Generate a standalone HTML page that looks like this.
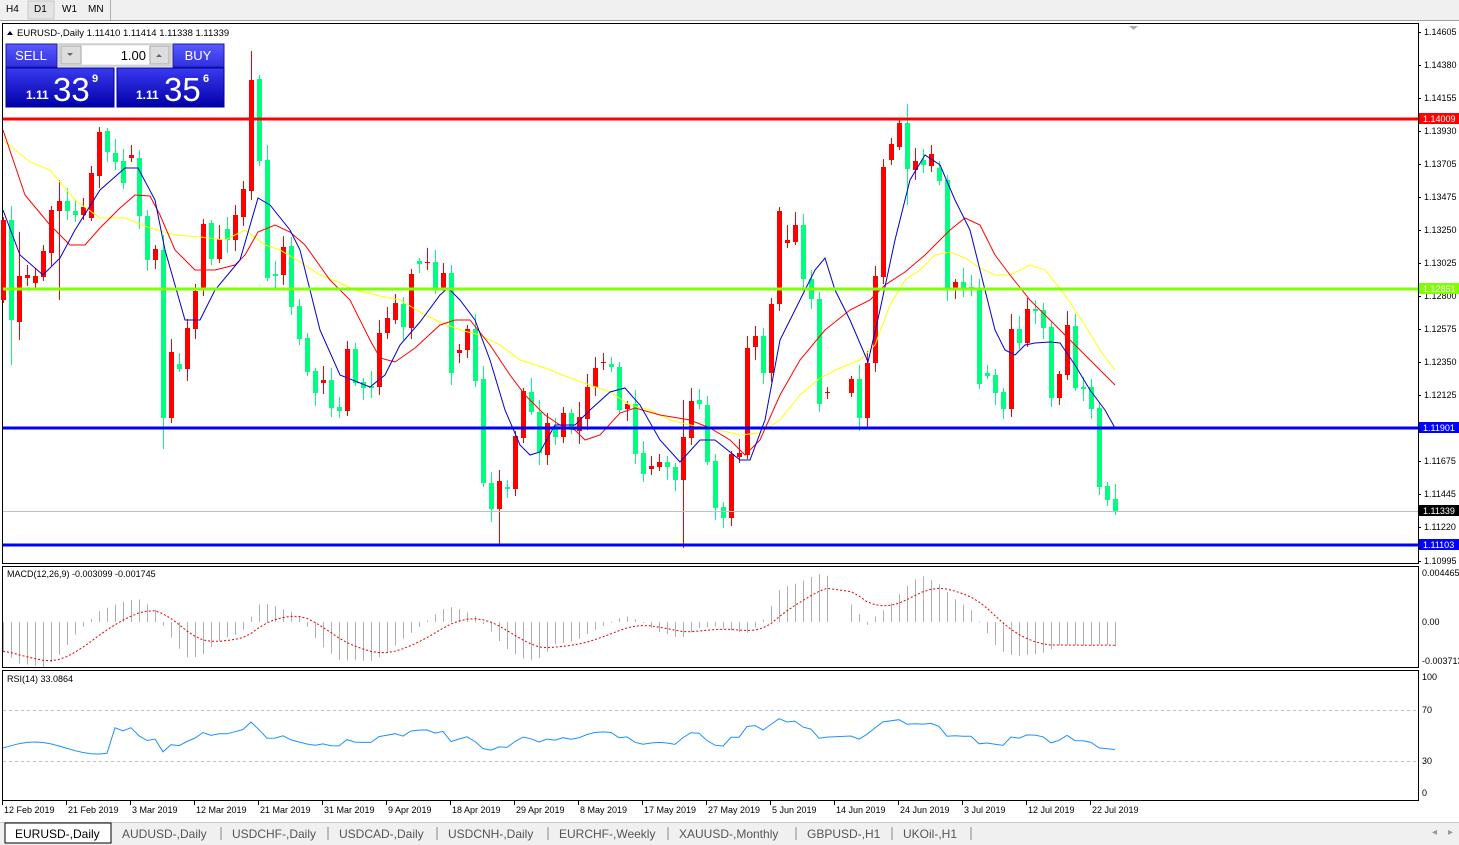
<!DOCTYPE html>
<html><head><meta charset="utf-8">
<style>
body{margin:0;width:1459px;height:845px;overflow:hidden;background:#fff;font-family:"Liberation Sans",sans-serif;}
svg{position:absolute;left:0;top:0}
</style></head>
<body>
<svg id="s" width="1459" height="845" xmlns="http://www.w3.org/2000/svg" font-family="Liberation Sans, sans-serif">
<defs>
<linearGradient id="gb" x1="0" y1="0" x2="0" y2="1"><stop offset="0" stop-color="#3a3af0"/><stop offset="1" stop-color="#0000a8"/></linearGradient>
<linearGradient id="gs" x1="0" y1="0" x2="0" y2="1"><stop offset="0" stop-color="#5a5aff"/><stop offset="1" stop-color="#2f2fe0"/></linearGradient>
</defs>
<rect x="0" y="0" width="1459" height="20" fill="#f0f0f0"/>
<line x1="0" y1="20.5" x2="1459" y2="20.5" stroke="#a0a0a0"/>
<rect x="28" y="1" width="26" height="18" fill="#e4e4e4" stroke="#c8c8c8"/>
<line x1="110.5" y1="0" x2="110.5" y2="20" stroke="#b0b0b0"/>
<g font-size="10" fill="#000"><text x="6" y="12">H4</text><text x="34" y="12">D1</text><text x="62" y="12">W1</text><text x="88" y="12">MN</text></g>
<rect x="2.5" y="23.5" width="1416" height="540" fill="#fff" stroke="#000"/>
<rect x="2.5" y="566.5" width="1416" height="101" fill="#fff" stroke="#000"/>
<rect x="2.5" y="670.5" width="1416" height="130" fill="#fff" stroke="#000"/>
<polygon points="1129,26 1138,26 1133.5,30" fill="#aaa"/>
<g id="main"></g>
<line x1="3" y1="511.5" x2="1418" y2="511.5" stroke="#c0c0c0"/>
<rect x="3" y="117.5" width="1415" height="3" fill="#ff0000"/>
<rect x="3" y="287.5" width="1415" height="3" fill="#7fff00"/>
<rect x="3" y="426.5" width="1415" height="3" fill="#0000ff"/>
<rect x="3" y="543.5" width="1415" height="3" fill="#0000ff"/>
<g id="ax" font-size="9" fill="#000"></g>
<polygon points="7,35 13,35 10,31" fill="#000"/>
<text x="17" y="36" font-size="9.5">EURUSD-,Daily  1.11410 1.11414 1.11338 1.11339</text>
<rect x="6" y="44" width="51" height="23" fill="url(#gs)" stroke="#1a1aa0"/>
<text x="31" y="60" font-size="13" fill="#fff" text-anchor="middle">SELL</text>
<rect x="173" y="44" width="51" height="23" fill="url(#gs)" stroke="#1a1aa0"/>
<text x="198" y="60" font-size="13" fill="#fff" text-anchor="middle">BUY</text>
<rect x="59" y="44" width="112" height="22" fill="#f0f0f0" stroke="#b0b0b0"/>
<rect x="61" y="46" width="20" height="18" fill="#ddd" stroke="#aaa"/>
<rect x="82" y="46" width="67" height="18" fill="#fff"/>
<rect x="150" y="46" width="19" height="18" fill="#ddd" stroke="#aaa"/>
<polygon points="67,53 73,53 70,56" fill="#667"/><polygon points="156,57 162,57 159,54" fill="#667"/>
<text x="146" y="60" font-size="13" text-anchor="end">1.00</text>
<rect x="6" y="68" width="108" height="39" fill="url(#gb)" stroke="#0000a0"/>
<rect x="117" y="68" width="107" height="39" fill="url(#gb)" stroke="#0000a0"/>
<g fill="#fff" font-weight="bold" font-size="12"><text x="26" y="99">1.11</text><text x="136" y="99">1.11</text><text x="92" y="82" font-size="11">9</text><text x="203" y="82" font-size="11">6</text></g>
<g fill="#fff" font-size="33"><text x="53" y="101">33</text><text x="164" y="101">35</text></g>
<g id="macd"></g>
<g id="rsi"></g>
<text x="7" y="577" font-size="9">MACD(12,26,9) -0.003099 -0.001745</text>
<text x="7" y="682" font-size="9">RSI(14) 33.0864</text>
<g font-size="9"><text x="1422" y="576">0.004465</text><text x="1422" y="625">0.00</text><text x="1422" y="664">-0.003713</text>
<text x="1422" y="680">100</text><text x="1422" y="713">70</text><text x="1422" y="764">30</text><text x="1422" y="796">0</text></g>
<line x1="3" y1="710.5" x2="1418" y2="710.5" stroke="#c0c0c0" stroke-dasharray="3,3"/>
<line x1="3" y1="761.5" x2="1418" y2="761.5" stroke="#c0c0c0" stroke-dasharray="3,3"/>
<g id="dates" font-size="9"></g>
<rect x="0" y="822" width="1459" height="23" fill="#f0f0f0"/>
<line x1="0" y1="822.5" x2="1459" y2="822.5" stroke="#c8c8c8"/>
<rect x="5" y="823" width="106" height="20" fill="#fff" stroke="#000"/>
<g font-size="12" fill="#555"><text x="15" y="838" fill="#000">EURUSD-,Daily</text>
<text x="122" y="838">AUDUSD-,Daily</text><text x="232" y="838">USDCHF-,Daily</text><text x="339" y="838">USDCAD-,Daily</text><text x="448" y="838">USDCNH-,Daily</text><text x="559" y="838">EURCHF-,Weekly</text><text x="679" y="838">XAUUSD-,Monthly</text><text x="807" y="838">GBPUSD-,H1</text><text x="903" y="838">UKOil-,H1</text></g>
<g stroke="#888"><line x1="221" y1="827" x2="221" y2="840"/><line x1="328" y1="827" x2="328" y2="840"/><line x1="437" y1="827" x2="437" y2="840"/><line x1="548" y1="827" x2="548" y2="840"/><line x1="668" y1="827" x2="668" y2="840"/><line x1="796" y1="827" x2="796" y2="840"/><line x1="892" y1="827" x2="892" y2="840"/><line x1="971" y1="827" x2="971" y2="840"/></g>
<g fill="#999" font-size="10"><text x="1432" y="835">◂</text><text x="1448" y="835">▸</text></g>
</svg>
<script>
var NS="http://www.w3.org/2000/svg";
function el(p,t,a){var e=document.createElementNS(NS,t);for(var k in a)e.setAttribute(k,a[k]);document.getElementById(p).appendChild(e);return e;}
var A=[['r',220,300],['g',220,320],['r',276,322],['r',275,278],['r',276,283],['r',251,277],['r',210,253],['r',201,211],['g',201,211],['g',211,215],['r',207,215],['r',173,218],['r',132,176],['g',131,152],['g',153,162],['g',161,183],['r',155,158],['g',158,216],['g',216,260],['r',249,260],['g',250,418],['r',352,418],['g',364,369],['r',328,369],['r',291,329],['r',224,288],['g',223,259],['r',239,259],['g',229,240],['r',215,240],['r',189,217],['r',80,191],['g',79,161],['g',160,278],['g',274,276],['r',247,275],
['g',246,307],['g',306,339],['g',338,372],['g',371,393],['r',380,383],['g',380,408],['g',407,411],['r',349,411],['g',349,383],['g',382,388],['g',386,388],['r',333,387],['r',318,333],['r',303,320],['g',304,327],['r',274,328],['g',261,264],['r',262,263],['g',262,289],['r',273,288],['g',273,373],['r',350,353],['r',329,350],['g',329,381],['g',379,483],['g',483,509],['r',481,509],['g',487,489],['r',436,489],['r',391,438],['g',392,412],['g',412,453],['r',423,455],['g',426,437]];
var B=[['r',413,437],['g',413,430],['r',417,431],['r',387,419],['r',368,387],['r',362,363],['g',364,367],['g',367,410],['r',404,409],['g',404,454],['g',453,474],['r',466,469],['r',462,467],['g',462,467],['g',467,480],['r',437,480],['r',401,438],['g',400,404],['g',405,462],['g',461,508],['g',507,518],['r',454,518],['r',453,457],['r',348,455],['r',336,347],['g',336,373],['r',304,373],['r',211,304],['r',240,243],['r',225,242],['g',225,279],['g',279,299],['g',299,404],['r',392,393]];
var C=[['r',379,393],['g',379,418],['r',363,418],['r',276,363],['r',167,277],['r',144,160],['r',123,147],['g',123,169],['r',161,170],['g',160,165],['r',154,166],['g',168,181],['g',180,288],['r',282,288],['g',282,288],['g',287,289],['g',289,384],['g',373,376],['g',375,393],['g',392,409],['r',329,409],['g',329,343],['r',309,343],['g',309,311],['g',310,328],['g',327,398],['r',374,398],['r',325,375],['g',326,388],['g',387,389],['g',387,409],['g',408,487],['g',486,500],['g',499,511]];
var cs=[];
A.forEach(function(c,i){cs.push([3+8*i].concat(c));});
B.forEach(function(c,i){cs.push([563+8*i].concat(c));});
C.forEach(function(c,i){cs.push([851+8*i].concat(c));});
var special={251:[51,200],683:[400,548],499:[470,545],163:[240,449],907:[104,205],11:[210,365],19:[232,340],59:[180,300]};
cs.forEach(function(c,i){
 var x=c[0],col=c[1]=='r'?'#ff0000':'#00ff80',t=c[2],b=c[3];
 var r1=((i*37)%13)+3,r2=((i*53)%11)+3;
 var hi=t-r1,lo=b+r2;
 for(var k in special){if(Math.abs(k-x)<4){hi=Math.min(hi,special[k][0]);lo=Math.max(lo,special[k][1]);}}
 el('main','rect',{x:x,y:hi,width:1,height:lo-hi,fill:col});
 el('main','rect',{x:x-2,y:t,width:5,height:Math.max(1,b-t),fill:col});
});
var blue=[[3,210],[20,255],[43,275],[60,258],[75,230],[100,190],[125,168],[138,168],[155,200],[165,250],[185,320],[200,320],[215,290],[240,260],[258,198],[270,205],[290,230],[300,250],[320,330],[340,375],[370,387],[385,375],[400,345],[420,322],[440,295],[448,288],[460,300],[475,320],[490,360],[505,410],[520,445],[530,455],[540,452],[555,425],[575,425],[590,410],[610,392],[625,388],[640,405],[660,440],[680,462],[700,440],[715,440],[740,460],[750,460],[765,420],[780,340],[800,300],[815,270],[825,258],[835,290],[850,320],[868,362],[880,310],[895,240],[910,180],[925,155],[940,165],[955,200],[970,230],[980,270],[995,330],[1005,350],[1015,355],[1025,345],[1035,343],[1050,342],[1060,343],[1075,365],[1090,390],[1105,410],[1115,428]];
var red=[[3,130],[25,195],[50,225],[70,245],[85,245],[100,228],[120,208],[135,195],[150,196],[160,215],[175,250],[195,270],[215,270],[235,265],[245,255],[258,232],[275,225],[290,232],[305,245],[330,280],[350,300],[370,340],[380,358],[395,362],[415,348],[440,325],[455,320],[470,320],[490,345],[510,375],[525,395],[545,415],[560,425],[575,430],[585,440],[600,435],[620,413],[635,408],[660,415],[690,420],[710,428],[730,440],[745,455],[760,440],[780,395],[800,360],[825,330],[850,310],[870,300],[885,285],[905,272],[925,255],[950,230],[965,218],[980,225],[995,255],[1010,275],[1030,300],[1050,320],[1070,340],[1090,360],[1115,385]];
var yel=[[3,140],[30,162],[50,170],[75,200],[100,218],[125,218],[150,228],[175,235],[200,237],[225,240],[245,230],[265,245],[280,250],[300,262],[320,275],[340,283],[355,290],[380,296],[400,300],[425,315],[440,322],[460,330],[480,335],[500,345],[520,360],[545,368],[570,378],[590,385],[610,392],[630,405],[650,410],[670,420],[690,425],[710,428],[740,435],[760,433],[780,420],[800,395],[820,378],[840,368],[860,360],[875,345],[890,305],[905,280],[920,270],[935,255],[950,252],[965,258],[980,268],[995,275],[1010,275],[1030,265],[1045,270],[1065,295],[1085,325],[1100,350],[1115,370]];
function pl(p,pts,col){el(p,'polyline',{points:pts.map(function(q){return q.join(',')}).join(' '),fill:'none',stroke:col,'stroke-width':1});}
pl('main',yel,'#ffff00');pl('main',red,'#ff0000');pl('main',blue,'#0000cc');
function at(pts,x){for(var i=1;i<pts.length;i++){if(x<=pts[i][0]){var a=pts[i-1],b=pts[i];return a[1]+(b[1]-a[1])*(x-a[0])/(b[0]-a[0]);}}return pts[pts.length-1][1];}
var sig=null,sp=[];
cs.forEach(function(c,i){var x=c[0];var m=(at(yel,x)-at(blue,x))*0.42;m=Math.max(-45,Math.min(50,m));
 var y0=622;el('macd','rect',{x:x,y:m>0?y0-m:y0,width:1,height:Math.max(1,Math.abs(m)),fill:'#b0b0b0'});
 sig=sig===null?m:sig+(m-sig)*0.2;sp.push([x,(y0-sig).toFixed(1)]);});
el('macd','polyline',{points:sp.map(function(q){return q.join(',')}).join(' '),fill:'none',stroke:'#e00000','stroke-dasharray':'2,2'});
var cl=cs.map(function(c){return c[1]=='r'?-c[2]:-c[3];});
var ag=0,al=0,rp=[];
for(var i=1;i<cl.length;i++){var d=cl[i]-cl[i-1];var g=d>0?d:0,l=d<0?-d:0;
 if(i<=14){ag+=g/14;al+=l/14;}else{ag=(ag*13+g)/14;al=(al*13+l)/14;}
 if(i<14)continue;
 var r=al==0?100:100-100/(1+ag/al);r=50+(r-50)*0.75;
 rp.push([cs[i][0],(793-r*1.16).toFixed(1)]);}
var first=rp[0][1];
var pre=[];for(var i=0;i<14;i++){var yv=748-6*Math.sin(i/2.5);pre.push([cs[i][0],yv.toFixed(1)]);}
pre.push([cs[13][0]+4,((+pre[13][1]+ +first)/2).toFixed(1)]);
rp=pre.concat(rp);
el('rsi','polyline',{points:rp.map(function(q){return q.join(',')}).join(' '),fill:'none',stroke:'#1e90ff','stroke-width':1});
[['1.14605',32],['1.14380',65],['1.14155',98],['1.13930',131],['1.13705',164],['1.13475',197],['1.13250',230],['1.13025',263],['1.12800',296],['1.12575',329],['1.12350',362],['1.12125',395],['1.11675',461],['1.11445',494],['1.11220',527],['1.10995',561]].forEach(function(p){
 el('ax','line',{x1:1418,y1:p[1]+0.5,x2:1421,y2:p[1]+0.5,stroke:'#000'});var t=el('ax','text',{x:1424,y:p[1]+3});t.textContent=p[0];});
[['1.14009',118,'#ff0000','#fff'],['1.12851',288,'#7fff00','#fff'],['1.11901',427,'#0000ff','#fff'],['1.11339',510,'#000','#fff'],['1.11103',544,'#0000ff','#fff']].forEach(function(p){
 el('ax','rect',{x:1419,y:p[1]-5,width:40,height:11,fill:p[2]});var t=el('ax','text',{x:1423,y:p[1]+4,fill:p[3]});t.textContent=p[0];});
['12 Feb 2019','21 Feb 2019','3 Mar 2019','12 Mar 2019','21 Mar 2019','31 Mar 2019','9 Apr 2019','18 Apr 2019','29 Apr 2019','8 May 2019','17 May 2019','27 May 2019','5 Jun 2019','14 Jun 2019','24 Jun 2019','3 Jul 2019','12 Jul 2019','22 Jul 2019'].forEach(function(d,i){
 var x=2+64*i;el('dates','line',{x1:x+0.5,y1:801,x2:x+0.5,y2:805,stroke:'#000'});var t=el('dates','text',{x:x+2,y:813});t.textContent=d;});
</script>
</body></html>
